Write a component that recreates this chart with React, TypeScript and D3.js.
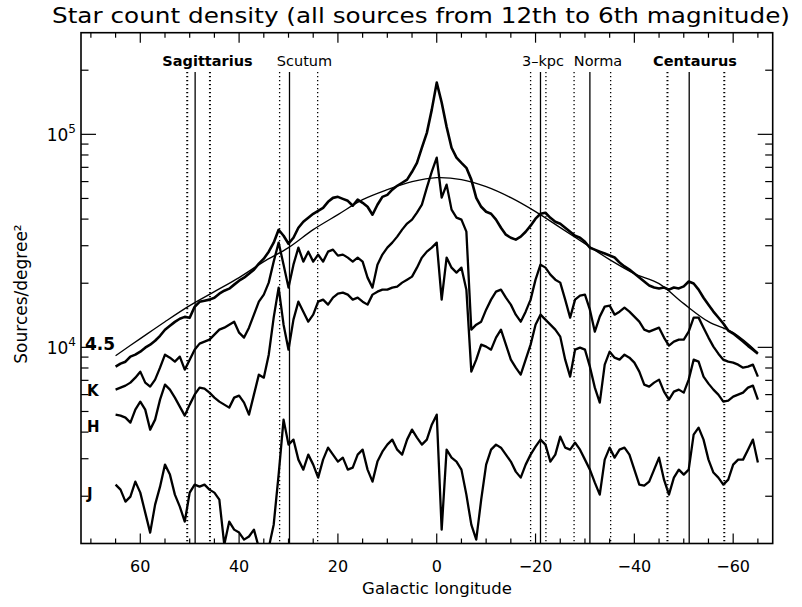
import React from "react";
import * as d3 from "d3";

// Galactic longitude sample grid (degrees)
const longitudes = [
  65, 64, 63, 62, 61, 60, 59, 58, 57, 56, 55, 54, 53, 52, 51, 50, 49, 48, 47, 46, 45, 44, 43, 42, 41, 40,
  39, 38, 37, 36, 35, 34, 33, 32, 31, 30, 29, 28, 27, 26, 25, 24, 23, 22, 21, 20, 19, 18, 17, 16, 15, 14,
  13, 12, 11, 10, 9, 8, 7, 6, 5, 4, 3, 2, 1, 0, -1, -2, -3, -4, -5, -6, -7, -8, -9, -10, -11, -12, -13,
  -14, -15, -16, -17, -18, -19, -20, -21, -22, -23, -24, -25, -26, -27, -28, -29, -30, -31, -32, -33,
  -34, -35, -36, -37, -38, -39, -40, -41, -42, -43, -44, -45, -46, -47, -48, -49, -50, -51, -52, -53,
  -54, -55, -56, -57, -58, -59, -60, -61, -62, -63, -64, -65,
];

// 4.5 micron band (sources / deg^2)
const band45 = [
  8120, 8385, 8565, 9050, 9245, 9545, 9960, 10290, 10740, 11330, 12090, 12620, 13170, 13620, 13900, 13760,
  15500, 16360, 16550, 16750, 17100, 17870, 18450, 18860, 19700, 20560, 21240, 22170, 23150, 24700, 26080,
  28120, 30990, 35650, 33420, 30660, 32700, 36420, 38860, 40570, 42360, 43750, 45190, 48200, 50320, 50880,
  49790, 48740, 46220, 49370, 47710, 45710, 41930, 46700, 50880, 51990, 55010, 57370, 59260, 61290, 66690,
  73490, 86530, 101600, 130600, 174900, 141000, 108400, 86530, 77760, 73490, 69630, 61290, 50320, 45710,
  43300, 42380, 39780, 36420, 33800, 32700, 32040, 33080, 34900, 37260, 40180, 42360, 42830, 40570, 38860,
  38050, 36420, 34900, 33420, 32700, 31310, 29360, 28760, 28150, 27560, 26980, 26410, 25020, 23990, 23170,
  22220, 21290, 20380, 19530, 19110, 18910, 19110, 18660, 19110, 18910, 19330, 20380, 19950, 18660, 17100,
  15860, 14720, 13810, 12940, 11990, 11610, 11120, 10650, 10160, 9754, 9340,
];

// K band
const bandK = [
  6331, 6470, 6611, 6829, 7207, 7690, 6829, 6540, 7054, 8030, 9241, 8947, 8568, 9044, 7858, 8755, 9754,
  10410, 10640, 10870, 11470, 12110, 12370, 12780, 13200, 11720, 11110, 12370, 14240, 16390, 17680, 20130,
  25260, 31020, 24450, 19070, 24450, 29390, 25260, 28140, 25260, 27250, 25260, 28140, 28760, 26950, 27250,
  26380, 25260, 26380, 25260, 21250, 19070, 24450, 27250, 29390, 31020, 33100, 35700, 38100, 39780, 42910,
  46770, 56220, 66820, 77740, 50450, 58070, 44320, 40650, 39780, 34940, 12110, 12780, 13200, 15030, 16750,
  18260, 18660, 17110, 15870, 14240, 13200, 14710, 16750, 20790, 24450, 23670, 21950, 20790, 20130, 16750,
  13790, 16750, 17490, 17680, 15030, 11850, 13940, 15530, 15700, 14240, 14710, 15360, 14710, 13940, 13200,
  12110, 11850, 12110, 12370, 11110, 10190, 10640, 10870, 10870, 11850, 13790, 13790, 12370, 11110, 10080,
  9341, 8755, 8568, 8476, 8295, 8030, 8118, 8295, 7286,
];

// H band
const bandH = [
  4832, 4780, 4678, 4432, 5100, 5561, 5100, 4109, 4578, 5683, 6683, 6331, 5807, 5269, 4780, 5384, 5998,
  6470, 6400, 6129, 5807, 5561, 5384, 5213, 5807, 5933, 5502, 4832, 5998, 7445, 7207, 9241, 13790, 19070,
  12780, 9754, 13490, 16390, 14710, 13200, 14240, 16390, 16750, 15870, 17110, 17870, 18060, 17680, 16750,
  17110, 16390, 15870, 17680, 18260, 18660, 18660, 19070, 19280, 20130, 20790, 21480, 23670, 26380, 28140,
  29390, 31020, 16750, 26380, 23670, 22430, 23670, 18660, 7690, 8755, 10300, 10080, 9754, 11110, 12110,
  10300, 8755, 8030, 7445, 8755, 10300, 12780, 14240, 13490, 12780, 12110, 11230, 8755, 7286, 9754, 9970,
  9754, 8118, 6470, 5502, 8295, 9546, 8947, 8755, 9241, 8947, 8476, 7690, 6683, 6540, 6829, 7054, 6195,
  5683, 6195, 6331, 6129, 7054, 8755, 8568, 7286, 6756, 6331, 5998, 5561, 5622, 5868, 5998, 6129, 6470,
  6611, 5683,
];

// J band
const bandJ = [
  2267, 2148, 1887, 1992, 2342, 2080, 1675, 1350, 1827, 2219, 2815, 2527, 2035, 1788, 1520, 2080, 2267,
  2219, 2267, 2148, 2080, 1928, 1185, 1520, 1394, 1350, 1251, 1294, 1394, 1147, 1063, 1147, 1471, 2527,
  4578, 3494, 3688, 2971, 2667, 3136, 2815, 2446, 2971, 3382, 3136, 2908, 3036, 2667, 2724, 3136, 3310,
  2667, 2342, 2908, 3239, 3494, 3688, 3310, 3136, 3688, 4109, 3769, 3494, 3688, 4337, 4832, 1394, 3310,
  3036, 2908, 2667, 2035, 1471, 1251, 1928, 2815, 3310, 3494, 3382, 3136, 2908, 2610, 2446, 2815, 3136,
  3418, 3688, 3494, 2908, 3136, 3810, 3382, 3310, 3570, 3310, 2971, 2667, 2317, 2035, 2971, 3382, 3036,
  3310, 3382, 3136, 2667, 2267, 2242, 2342, 2667, 3036, 2393, 2035, 2446, 2667, 2527, 2667, 3893, 4200,
  3688, 2971, 2584, 2446, 2267, 2393, 2815, 2971, 2971, 3310, 3688, 2882,
];

// Smooth model curve
const modelLongitudes = [65, 60, 55, 50, 45, 40, 35, 30, 25, 20, 15, 10, 5, 0, -5, -10, -15, -20, -25, -30, -35, -40, -45, -50, -55, -60, -65];
const modelValues = [
  9141, 10990, 13200, 15700, 18260, 21250, 25260, 29390, 35700, 41990, 49370, 55010, 59980, 62630, 61290,
  56830, 50450, 43370, 36490, 30680, 25810, 22190, 19910, 16040, 13200, 11720, 9443,
];

// Spiral arm tangent markers
const armNames = ["Sagittarius", "Scutum", "3–kpc", "Norma", "Centaurus"];
const armBold = [true, false, false, false, true];
const armCenter = [48.9, 29.8, -21.0, -31.0, -51.1];
const armLow = [50.5, 31.8, -19.0, -27.8, -46.7];
const armHigh = [45.9, 24.1, -22.1, -35.2, -58.2];
const armLabelCenter = [207.5, 304.5, 543, 598, 695];

const seriesLabels = ["4.5", "K", "H", "J"];
const xMajorTicks = [60, 40, 20, 0, -20, -40, -60];
const xMinorTicks = [70, 65, 55, 50, 45, 35, 30, 25, 15, 10, 5, -5, -10, -15, -25, -30, -35, -45, -50, -55, -65];
const yMajorTicks = [10000, 100000];
const yMajorExp = ["4", "5"];
const yMinorTicks = [2000, 3000, 4000, 5000, 6000, 7000, 8000, 9000, 20000, 30000, 40000, 50000, 60000, 70000, 80000, 90000, 200000];

export default function App() {
  const W = 802, H = 607;
  const left = 81, right = 772.7, top = 32.7, bottom = 543.5;
  const x = d3.scaleLinear().domain([72, -68]).range([left, right]);
  const y = d3.scaleLog().domain([1200, 300000]).range([bottom, top]);
  const line = d3
    .line<[number, number]>()
    .x((d) => x(d[0]))
    .y((d) => y(d[1]));
  const smooth = d3
    .line<[number, number]>()
    .x((d) => x(d[0]))
    .y((d) => y(d[1]))
    .curve(d3.curveCatmullRom);

  const zip = (vals: number[]) => longitudes.map((l, i) => [l, vals[i]] as [number, number]);
  const series = [band45, bandK, bandH, bandJ];
  const font = "DejaVu Sans, sans-serif";
  const labelY = [350, 396, 432, 499];

  return (
    <svg width={W} height={H} style={{ display: "block", position: "absolute", left: 0, top: 0 }} fontFamily={font}>
      <rect width={W} height={H} fill="#fff" />
      <defs>
        <clipPath id="plot">
          <rect x={left} y={top} width={right - left} height={bottom - top} />
        </clipPath>
      </defs>
      <text x={421} y={23} fontSize={22} textAnchor="middle" textLength={738} lengthAdjust="spacingAndGlyphs">
        Star count density (all sources from 12th to 6th magnitude)
      </text>

      {/* arm markers */}
      {armNames.map((n, i) => (
        <g key={n}>
          <line x1={x(armCenter[i])} x2={x(armCenter[i])} y1={72} y2={bottom} stroke="#000" strokeWidth={1.3} />
          {[armLow[i], armHigh[i]].map((l, j) => (
            <line
              key={j}
              x1={x(l)}
              x2={x(l)}
              y1={72}
              y2={bottom}
              stroke="#000"
              strokeWidth={armBold[i] ? 2 : 1.3}
              strokeDasharray="1.3,2.7"
            />
          ))}
          <text x={armLabelCenter[i]} y={66} fontSize={14.5} textAnchor="middle" fontWeight={armBold[i] ? "bold" : "normal"}>
            {n}
          </text>
        </g>
      ))}

      <g clipPath="url(#plot)">
        <path d={smooth(modelLongitudes.map((l, i) => [l, modelValues[i]] as [number, number])) || ""} fill="none" stroke="#000" strokeWidth={1.3} />
        {series.map((s, i) => (
          <path key={i} d={line(zip(s)) || ""} fill="none" stroke="#000" strokeWidth={i === 0 ? 2.6 : 2.3} strokeLinejoin="round" />
        ))}
      </g>

      {/* frame */}
      <rect x={left} y={top} width={right - left} height={bottom - top} fill="none" stroke="#000" strokeWidth={1.6} />

      {/* x ticks */}
      {xMajorTicks.map((t) => (
        <g key={"xM" + t}>
          <line x1={x(t)} x2={x(t)} y1={bottom} y2={bottom - 10} stroke="#000" strokeWidth={1.2} />
          <line x1={x(t)} x2={x(t)} y1={top} y2={top + 10} stroke="#000" strokeWidth={1.2} />
          <text x={x(t)} y={572} fontSize={16} textAnchor="middle">
            {t < 0 ? "−" + Math.abs(t) : String(t)}
          </text>
        </g>
      ))}
      {xMinorTicks.map((t) => (
        <g key={"xm" + t}>
          <line x1={x(t)} x2={x(t)} y1={bottom} y2={bottom - 5} stroke="#000" strokeWidth={1.2} />
          <line x1={x(t)} x2={x(t)} y1={top} y2={top + 5} stroke="#000" strokeWidth={1.2} />
        </g>
      ))}

      {/* y ticks */}
      {yMajorTicks.map((t, i) => (
        <g key={"yM" + t}>
          <line x1={left} x2={left + 15} y1={y(t)} y2={y(t)} stroke="#000" strokeWidth={1.2} />
          <line x1={right} x2={right - 15} y1={y(t)} y2={y(t)} stroke="#000" strokeWidth={1.2} />
          <text x={76} y={y(t) + 7} fontSize={17} textAnchor="end">
            10
            <tspan dy={-8} fontSize={12}>
              {yMajorExp[i]}
            </tspan>
          </text>
        </g>
      ))}
      {yMinorTicks.map((t) => (
        <g key={"ym" + t}>
          <line x1={left} x2={left + 7.5} y1={y(t)} y2={y(t)} stroke="#000" strokeWidth={1.2} />
          <line x1={right} x2={right - 7.5} y1={y(t)} y2={y(t)} stroke="#000" strokeWidth={1.2} />
        </g>
      ))}

      {seriesLabels.map((s, i) => (
        <text key={s} x={i === 0 ? 85 : 87} y={labelY[i]} fontSize={i === 0 ? 17 : 15} fontWeight="bold">
          {s}
        </text>
      ))}

      <text x={437} y={594} fontSize={16.5} textAnchor="middle">
        Galactic longitude
      </text>
      <text transform="translate(27,294) rotate(-90)" fontSize={17} textAnchor="middle">
        Sources/degree²
      </text>
    </svg>
  );
}
